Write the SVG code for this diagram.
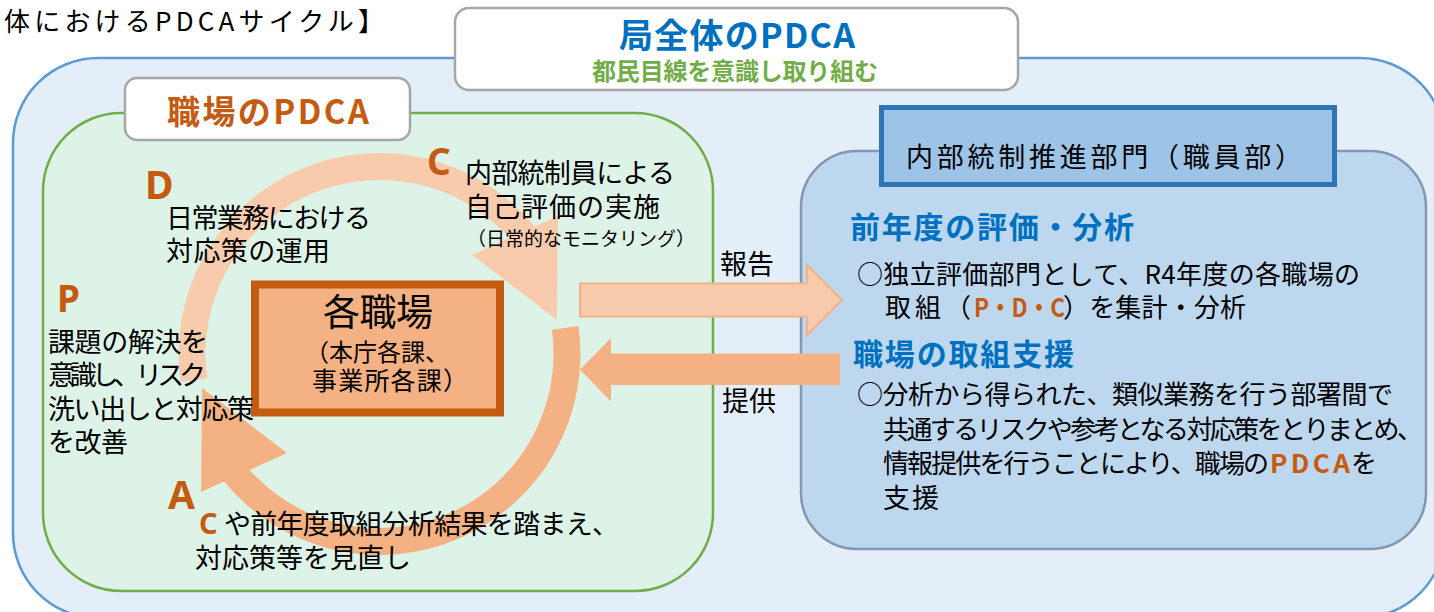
<svg xmlns="http://www.w3.org/2000/svg" width="1434" height="612" viewBox="0 0 1434 612">
<style>
text{font-family:"Noto Sans CJK JP","Noto Sans",sans-serif;fill:#000;}
.b{font-weight:700}
.or{fill:#C55A11}
.bl{fill:#0070C0}
.gr{fill:#70AD47}
.lbl{fill:#fff;stroke:#A6A6A6;stroke-width:2.5}
.ltr{font-family:"Noto Sans","Noto Sans CJK JP",sans-serif;font-weight:700;fill:#C55A11}
</style>
<rect width="1434" height="612" fill="#fff"/>
<g id="overall">
<rect x="13" y="58" width="1432" height="560" rx="85" fill="#E4EEF8" stroke="#5B9BD5" stroke-width="2.5"/>
</g>
<g id="title-box">
<rect class="lbl" x="455" y="8" width="563" height="82" rx="14"/>
<text class="b bl" x="619" y="48" font-size="34" textLength="236">局全体のPDCA</text>
<text class="b gr" x="592" y="80" font-size="24" textLength="286">都民目線を意識し取り組む</text>
</g>
<text x="4" y="31" font-size="26" textLength="380">体におけるPDCAサイクル】</text>
<g id="workplace">
<rect x="43" y="113" width="670" height="478" rx="78" fill="#DEF3E7" stroke="#70AD47" stroke-width="2.5"/>
<rect class="lbl" x="125" y="78" width="285" height="62" rx="12"/>
<text class="b or" x="167" y="124" font-size="33" textLength="202">職場のPDCA</text>
</g>
<g id="dept">
<rect x="801" y="151" width="625" height="398" rx="56" fill="#BDD7EE" stroke="#8497B0" stroke-width="2.5"/>
<rect x="881.5" y="107.5" width="453" height="77" fill="#9DC3E6" stroke="#2E75B6" stroke-width="5"/>
<text x="906" y="167" font-size="27" textLength="396">内部統制推進部門（職員部）</text>
<text class="b bl" x="850" y="238" font-size="30" textLength="284">前年度の評価・分析</text>
<text x="857" y="284" font-size="26" textLength="503">○独立評価部門として、R4年度の各職場の</text>
<text y="317" font-size="26"><tspan x="885" textLength="86">取組（</tspan><tspan class="b or" x="974" textLength="91" lengthAdjust="spacingAndGlyphs">P・D・C</tspan><tspan x="1063" textLength="183">）を集計・分析</tspan></text>
<text class="b bl" x="853" y="365" font-size="30" textLength="221">職場の取組支援</text>
<text x="857" y="404" font-size="26" textLength="536">○分析から得られた、類似業務を行う部署間で</text>
<text x="883" y="439" font-size="26" textLength="540">共通するリスクや参考となる対応策をとりまとめ、</text>
<text y="473" font-size="26"><tspan x="883" textLength="386">情報提供を行うことにより、職場の</tspan><tspan class="b or" x="1270" textLength="80">PDCA</tspan><tspan x="1351">を</tspan></text>
<text x="883" y="508" font-size="27" textLength="56">支援</text>
</g>
<g id="cycle">
<path d="M180.5 382 A201 201 0 0 1 534.9 226.5 L558 216 L557 320 L472 255 L509.3 238.1 A174 174 0 0 0 207.2 378.2 Z" fill="#F8CBAD"/>
<path d="M578.5 326 A201 201 0 0 1 224.1 481.5 L201 492 L202 388 L287 453 L249.7 469.9 A174 174 0 0 0 551.8 329.8 Z" fill="#F4B183"/>
</g>
<g id="center">
<rect x="255" y="284.5" width="245" height="128" fill="#F4B183" stroke="#C55A11" stroke-width="8"/>
<text x="323" y="326" font-size="37" textLength="110">各職場</text>
<text x="305" y="361" font-size="24" textLength="144">（本庁各課、</text>
<text x="312" y="390" font-size="25" textLength="156">事業所各課）</text>
</g>
<g id="connectors">
<path d="M580 283.5 L807 283.5 L807 265 L842 300 L807 335 L807 316.5 L580 316.5 Z" fill="#F8CBAD" stroke="#F4B183" stroke-width="2"/>
<path d="M840 353.5 L611 353.5 L611 338 L580 369.5 L611 401.5 L611 385 L840 385 Z" fill="#F4B183"/>
</g>
<g id="labels">
<text class="ltr" x="427" y="175" font-size="37">C</text>
<text class="ltr" x="145" y="199" font-size="39">D</text>
<text class="ltr" x="57" y="312" font-size="37">P</text>
<text class="ltr" x="168" y="509" font-size="39">A</text>
<text x="465" y="183" font-size="27" textLength="210">内部統制員による</text>
<text x="465" y="217" font-size="27" textLength="195">自己評価の実施</text>
<text x="467" y="246" font-size="19" textLength="228">（日常的なモニタリング）</text>
<text x="166" y="228" font-size="27" textLength="205">日常業務における</text>
<text x="166" y="261" font-size="27" textLength="164">対応策の運用</text>
<text x="48" y="352" font-size="27" textLength="160">課題の解決を</text>
<text x="48" y="385" font-size="27" textLength="158">意識し、リスク</text>
<text x="48" y="419" font-size="27" textLength="206">洗い出しと対応策</text>
<text x="48" y="452" font-size="27" textLength="80">を改善</text>
<text y="534" font-size="27"><tspan class="ltr" x="199" font-size="29">C</tspan><tspan x="224" textLength="395">や前年度取組分析結果を踏まえ、</tspan></text>
<text x="195" y="568" font-size="27" textLength="216">対応策等を見直し</text>
<text x="720" y="274" font-size="27" textLength="54">報告</text>
<text x="722" y="411" font-size="27" textLength="54">提供</text>
</g>
</svg>
